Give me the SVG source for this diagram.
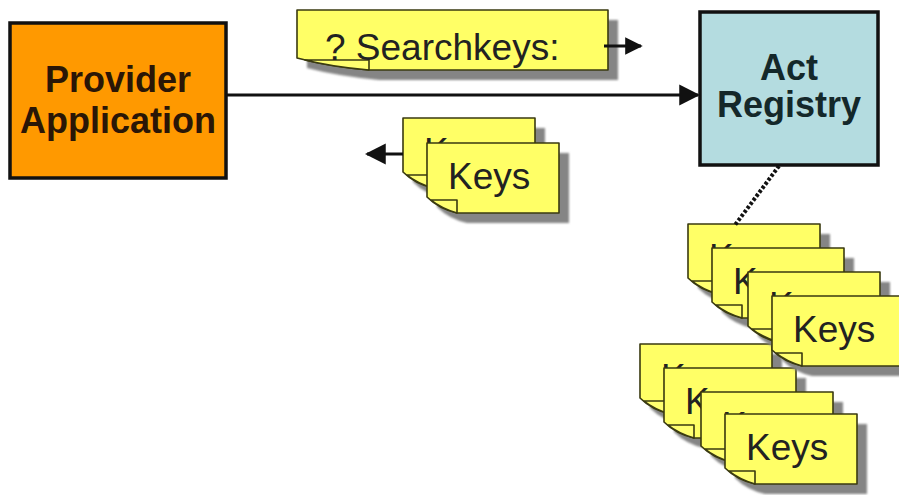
<svg xmlns="http://www.w3.org/2000/svg" xmlns:xlink="http://www.w3.org/1999/xlink" width="899" height="495" viewBox="0 0 899 495">
  <style>
    .box { stroke: #111; stroke-width: 3.5; }
    .boxtext { font-family: "Liberation Sans", Arial, sans-serif; font-weight: bold; font-size: 36px; text-anchor: middle; }
    .notebody { fill: #FFFF66; stroke: #3a3a10; stroke-width: 1.6; stroke-linejoin: round; }
    .noteflap { fill: #FFFF70; stroke: #3a3a10; stroke-width: 1.6; stroke-linejoin: round; }
    .shadow { fill: #858585; filter: url(#soft); }
    .notetext { font-family: "Liberation Sans", Arial, sans-serif; font-size: 37px; fill: #222; }
    .conn { stroke: #111; stroke-width: 3.2; fill: none; }
    .dotted { stroke: #111; stroke-width: 4; stroke-dasharray: 3 2; fill: none; }
  </style>
  <defs>
    <filter id="soft" x="-10%" y="-10%" width="120%" height="130%">
      <feGaussianBlur stdDeviation="1"/>
    </filter>
    <marker id="arrow" viewBox="0 0 10 10" refX="9" refY="5" markerWidth="6.5" markerHeight="7" markerUnits="strokeWidth" orient="auto">
      <path d="M0,0 L10,5 L0,10 Z" fill="#111"/>
    </marker>
    <marker id="arrowSmall" viewBox="0 0 10 10" refX="9" refY="5" markerWidth="5.5" markerHeight="6.5" markerUnits="strokeWidth" orient="auto">
      <path d="M0,0 L10,5 L0,10 Z" fill="#111"/>
    </marker>
    <path id="keyBody" d="M0,0 H132 V70 H30 Q12,66 0,54 Z"/>
    <path id="keyFlap" d="M4,57 H30 V70 Q14,65 4,57 Z"/>
    <g id="keyNote">
      <use xlink:href="#keyBody" class="shadow" transform="translate(10,10)"/>
      <use xlink:href="#keyBody" class="notebody"/>
      <use xlink:href="#keyFlap" class="noteflap"/>
      <text class="notetext" x="21" y="46">Keys</text>
    </g>
  </defs>

  <!-- Nodes -->
  <g id="provider-application">
    <rect class="box" x="10" y="23" width="216" height="155" fill="#FF9900"/>
    <text class="boxtext" x="118" y="92" fill="#2a1606">Provider</text>
    <text class="boxtext" x="118" y="133" fill="#2a1606">Application</text>
  </g>

  <g id="act-registry">
    <rect class="box" x="700" y="12" width="178" height="153" fill="#B4DCE0"/>
    <text class="boxtext" x="789" y="80" fill="#14282a">Act</text>
    <text class="boxtext" x="789" y="117" fill="#14282a">Registry</text>
  </g>

  <g id="note-searchkeys">
    <path class="shadow" transform="translate(307,20)" d="M0,0 H311 V60 H72 Q30,56 0,48 Z"/>
    <path class="notebody" transform="translate(297,10)" d="M0,0 H311 V60 H72 Q30,56 0,48 Z"/>
    <path class="noteflap" transform="translate(297,10)" d="M8,50 H72 V60 Q36,57 8,50 Z"/>
    <text class="notetext" x="325" y="60">? Searchkeys:</text>
  </g>

  <g id="keys-returned">
    <use xlink:href="#keyNote" x="403" y="118"/>
    <use xlink:href="#keyNote" x="427" y="143"/>
  </g>

  <g id="keys-stack-2">
    <use xlink:href="#keyNote" x="640" y="344"/>
    <use xlink:href="#keyNote" x="664" y="368"/>
    <use xlink:href="#keyNote" x="701" y="392"/>
    <use xlink:href="#keyNote" x="725" y="414"/>
  </g>

  <g id="keys-stack-1">
    <use xlink:href="#keyNote" x="688" y="224"/>
    <use xlink:href="#keyNote" x="712" y="248"/>
    <use xlink:href="#keyNote" x="748" y="272"/>
    <use xlink:href="#keyNote" x="772" y="296"/>
  </g>

  <!-- Connectors -->
  <g id="connectors">
    <line class="conn" x1="227" y1="95" x2="698" y2="95" marker-end="url(#arrow)"/>
    <line class="conn" x1="604" y1="46" x2="641" y2="46" stroke-width="2.6" marker-end="url(#arrowSmall)"/>
    <line class="conn" x1="403" y1="154" x2="367" y2="154" marker-end="url(#arrow)"/>
    <line class="dotted" x1="779" y1="166" x2="735" y2="225"/>
  </g>
</svg>
